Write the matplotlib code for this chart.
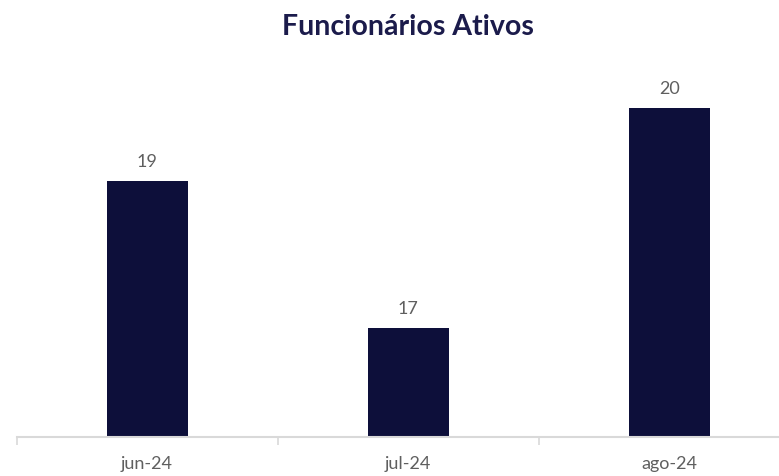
import numpy as np
from matplotlib import pyplot as plt

months = ['jun-24', 'jul-24', 'ago-24']
ativos = [19, 17, 20]

plt.rcParams['font.family'] = ['Lato', 'DejaVu Sans']

fig = plt.figure(figsize=(7.79, 4.76), dpi=100)
# axes runs slightly past the right edge, as in the original
ax = fig.add_axes([16.5 / 779, 1 - 437 / 476, (800 - 16.5) / 779, (437 - 60) / 476])

x = np.arange(len(months))
bars = ax.bar(x, ativos, width=0.31, color='#0d0f3a', zorder=2)

ax.set_xlim(-0.5, 2.5)
ax.set_ylim(15.517, 20.65)

for b, v in zip(bars, ativos):
    ax.annotate(str(v), (b.get_x() + b.get_width() / 2, v), xytext=(0, 8),
                textcoords='offset points', ha='center', va='bottom',
                fontsize=13, color='#5f5f5f')

for s in ['top', 'right', 'left']:
    ax.spines[s].set_visible(False)
ax.spines['bottom'].set_color('#d9d9d9')
ax.spines['bottom'].set_linewidth(1.5)
ax.set_yticks([])

ax.set_xticks([-0.5, 0.5, 1.5, 2.5])
ax.set_xticklabels([])
ax.tick_params(axis='x', which='major', length=6, width=1.2, color='#d9d9d9')
ax.set_xticks(x, minor=True)
ax.set_xticklabels(months, minor=True)
ax.tick_params(axis='x', which='minor', length=0, pad=14, labelsize=13, labelcolor='#5f5f5f')

fig.text(408 / 779, 1 - 27 / 476, 'Funcionários Ativos', ha='center', va='center',
         fontsize=20.5, fontweight='bold', color='#1b1b4b')

plt.savefig('out.png', dpi=100)
